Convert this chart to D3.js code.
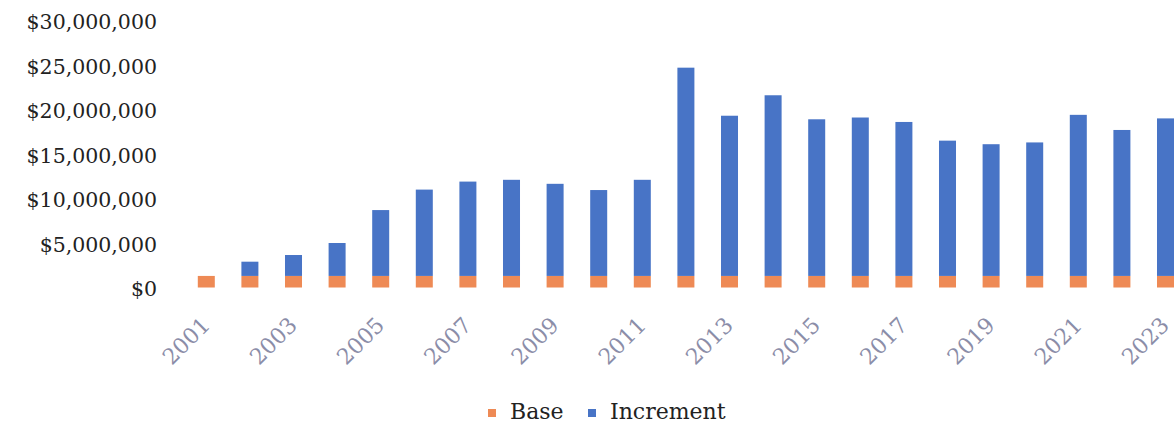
<!DOCTYPE html>
<html>
<head>
<meta charset="utf-8">
<script src="https://cdn.jsdelivr.net/npm/d3@7/dist/d3.min.js"></script>
<style>
  body { margin: 0; background: #fff; }
  svg { display: block; }
</style>
</head>
<body>
<svg width="1174" height="424"></svg>
<script>
var years = ["2001","2002","2003","2004","2005","2006","2007","2008","2009","2010","2011","2012",
             "2013","2014","2015","2016","2017","2018","2019","2020","2021","2022","2023"];
var base = [1300000,1300000,1300000,1300000,1300000,1300000,1300000,1300000,1300000,1300000,1300000,1300000,
            1300000,1300000,1300000,1300000,1300000,1300000,1300000,1300000,1300000,1300000,1300000];
var increment = [0,1600000,2350000,3700000,7400000,9700000,10600000,10800000,10350000,9650000,10800000,23400000,
                 18000000,20300000,17600000,17800000,17300000,15200000,14800000,15000000,18100000,16400000,17700000];
var yTicks = [0,5000000,10000000,15000000,20000000,25000000,30000000];
var seriesNames = ["Base","Increment"];
var colors = {"Base":"#EE8A55","Increment":"#4874C6"};

var svg = d3.select("svg");

var rows = years.map(function(y,i){ return {year:y, Base:base[i], Increment:increment[i]}; });

var x = d3.scaleBand()
    .domain(years)
    .range([184.5, 1187.3])
    .paddingInner(0.61)
    .paddingOuter(0.305);

var y = d3.scaleLinear()
    .domain([0, 30000000])
    .range([287.5, 20.5]);

var stack = d3.stack().keys(seriesNames)(rows);

svg.append("g").selectAll("g")
    .data(stack)
    .enter().append("g")
    .attr("fill", function(d){ return colors[d.key]; })
    .selectAll("rect")
    .data(function(d){ return d; })
    .enter().append("rect")
    .attr("x", function(d){ return x(d.data.year); })
    .attr("width", x.bandwidth())
    .attr("y", function(d){ return y(d[1]); })
    .attr("height", function(d){ return y(d[0]) - y(d[1]); });

// y axis labels
var fmt = d3.format("$,");
var yAxis = d3.axisLeft(y).tickValues(yTicks).tickSize(0).tickPadding(0).tickFormat(function(d){ return fmt(d); });
var ya = svg.append("g").attr("transform","translate(157,1.5)").call(yAxis);
ya.select(".domain").remove();
ya.selectAll("text")
    .attr("font-family","DejaVu Serif")
    .attr("font-size","20.5px")
    .attr("fill","#222");

// x axis labels, odd years only
var xAxis = d3.axisBottom(x).tickSize(0).tickPadding(0)
    .tickValues(years.filter(function(d,i){ return i % 2 == 0; }));
var xa = svg.append("g").attr("transform","translate(0,287.5)").call(xAxis);
xa.select(".domain").remove();
xa.selectAll("text")
    .attr("font-family","DejaVu Serif")
    .attr("font-size","22px")
    .attr("fill","#8b8da8")
    .attr("text-anchor","end")
    .attr("dy",null)
    .attr("y",0)
    .attr("transform","translate(5,39) rotate(-45)");

// legend
var legendX = [488, 588];
var lg = svg.append("g").selectAll("g")
    .data(seriesNames)
    .enter().append("g")
    .attr("transform", function(d,i){ return "translate(" + legendX[i] + ",0)"; });
lg.append("rect")
    .attr("x",0).attr("y",409).attr("width",8).attr("height",8)
    .attr("fill", function(d){ return colors[d]; });
lg.append("text")
    .attr("x",22).attr("y",419)
    .attr("font-family","DejaVu Serif")
    .attr("font-size","22px")
    .attr("fill","#222")
    .text(function(d){ return d; });
</script>
</body>
</html>
